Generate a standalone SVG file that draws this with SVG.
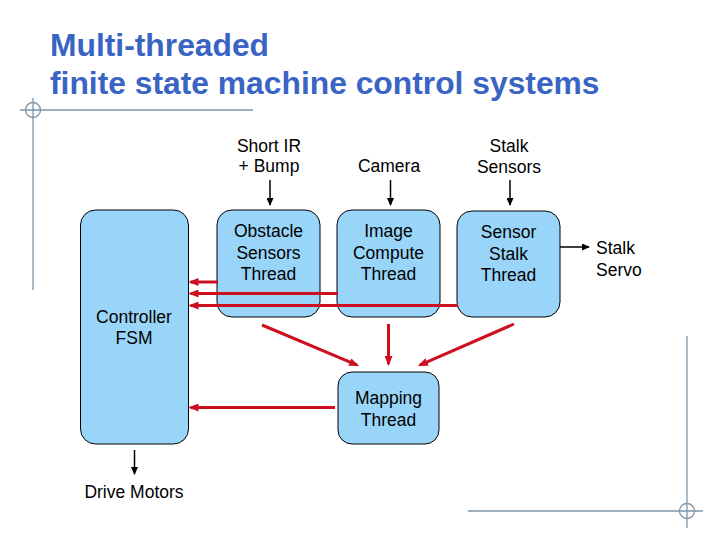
<svg xmlns="http://www.w3.org/2000/svg" width="720" height="540" viewBox="0 0 720 540">
<style>
.title{font-family:"Liberation Sans",Arial,sans-serif;font-size:31.8px;font-weight:bold;fill:#3a64c3}
.t{font-family:"Liberation Sans",Arial,sans-serif;font-size:17.5px;fill:#000;text-anchor:middle}
.tl{font-family:"Liberation Sans",Arial,sans-serif;font-size:17.5px;fill:#000}
.node{fill:#99d5f8;stroke:#000;stroke-width:1}
.deco{stroke:#7f95a8;stroke-width:1.3;fill:none}
.red{stroke:#cc1020;stroke-width:3;fill:none;marker-end:url(#rh)}
.blk{stroke:#000;stroke-width:1.5;fill:none;marker-end:url(#bh)}
</style>
<defs>
<marker id="rh" markerUnits="userSpaceOnUse" viewBox="0 0 10 8" markerWidth="10" markerHeight="8" refX="8" refY="4" orient="auto"><path d="M0,0 L10,4 L0,8 z" fill="#cc1020"/></marker>
<marker id="bh" markerUnits="userSpaceOnUse" viewBox="0 0 8 7" markerWidth="8" markerHeight="7" refX="7" refY="3.5" orient="auto"><path d="M0,0 L8,3.5 L0,7 z" fill="#000"/></marker>
</defs>
<rect width="720" height="540" fill="#fff"/>
<g id="decor">
<line class="deco" x1="20" y1="110" x2="253" y2="110"/>
<line class="deco" x1="33" y1="98" x2="33" y2="290"/>
<circle class="deco" cx="33" cy="110" r="7.5"/>
<line class="deco" x1="468" y1="511" x2="703" y2="511"/>
<line class="deco" x1="687" y1="336" x2="687" y2="528"/>
<circle class="deco" cx="687" cy="511" r="7.5"/>
</g>
<g id="title">
<text class="title" x="50" y="56">Multi-threaded</text>
<text class="title" x="50" y="94">finite state machine control systems</text>
</g>
<g id="controller">
<rect class="node" x="80.5" y="210" width="108" height="234" rx="15"/>
<text class="t" x="134" y="323">Controller</text>
<text class="t" x="134" y="344">FSM</text>
</g>
<g id="obstacle">
<rect class="node" x="217" y="210" width="103" height="107" rx="15"/>
<text class="t" x="268.5" y="237">Obstacle</text>
<text class="t" x="268.5" y="258.5">Sensors</text>
<text class="t" x="268.5" y="280">Thread</text>
</g>
<g id="image">
<rect class="node" x="337" y="210" width="103" height="107" rx="15"/>
<text class="t" x="388.5" y="237">Image</text>
<text class="t" x="388.5" y="258.5">Compute</text>
<text class="t" x="388.5" y="280">Thread</text>
</g>
<g id="stalk">
<rect class="node" x="457" y="211" width="103" height="106" rx="15"/>
<text class="t" x="508.5" y="238">Sensor</text>
<text class="t" x="508.5" y="259.5">Stalk</text>
<text class="t" x="508.5" y="281">Thread</text>
</g>
<g id="mapping">
<rect class="node" x="338" y="372" width="101" height="72" rx="14"/>
<text class="t" x="388.5" y="404">Mapping</text>
<text class="t" x="388.5" y="425.5">Thread</text>
</g>
<g id="labels">
<text class="t" x="269" y="151.5">Short IR</text>
<text class="t" x="269" y="171.5">+ Bump</text>
<text class="t" x="389" y="171.5">Camera</text>
<text class="t" x="509" y="151.5">Stalk</text>
<text class="t" x="509" y="173">Sensors</text>
<text class="tl" x="596" y="254">Stalk</text>
<text class="tl" x="596" y="275.5">Servo</text>
<text class="t" x="134" y="498">Drive Motors</text>
</g>
<g id="connectors">
<line class="blk" x1="270" y1="180" x2="270" y2="205"/>
<line class="blk" x1="390.5" y1="180" x2="390.5" y2="205"/>
<line class="blk" x1="510" y1="180" x2="510" y2="205"/>
<line class="blk" x1="560" y1="247" x2="589" y2="247"/>
<line class="blk" x1="134.5" y1="450" x2="134.5" y2="474"/>
<line class="red" x1="218" y1="282" x2="190.5" y2="282"/>
<line class="red" x1="338" y1="293.5" x2="190.5" y2="293.5"/>
<line class="red" x1="458" y1="305.5" x2="190.5" y2="305.5"/>
<line class="red" x1="262" y1="325" x2="357.2" y2="365.2"/>
<line class="red" x1="388.5" y1="324" x2="388.5" y2="364"/>
<line class="red" x1="514" y1="324" x2="419.8" y2="365.2"/>
<line class="red" x1="335" y1="407.5" x2="190.5" y2="407.5"/>
</g>
</svg>
